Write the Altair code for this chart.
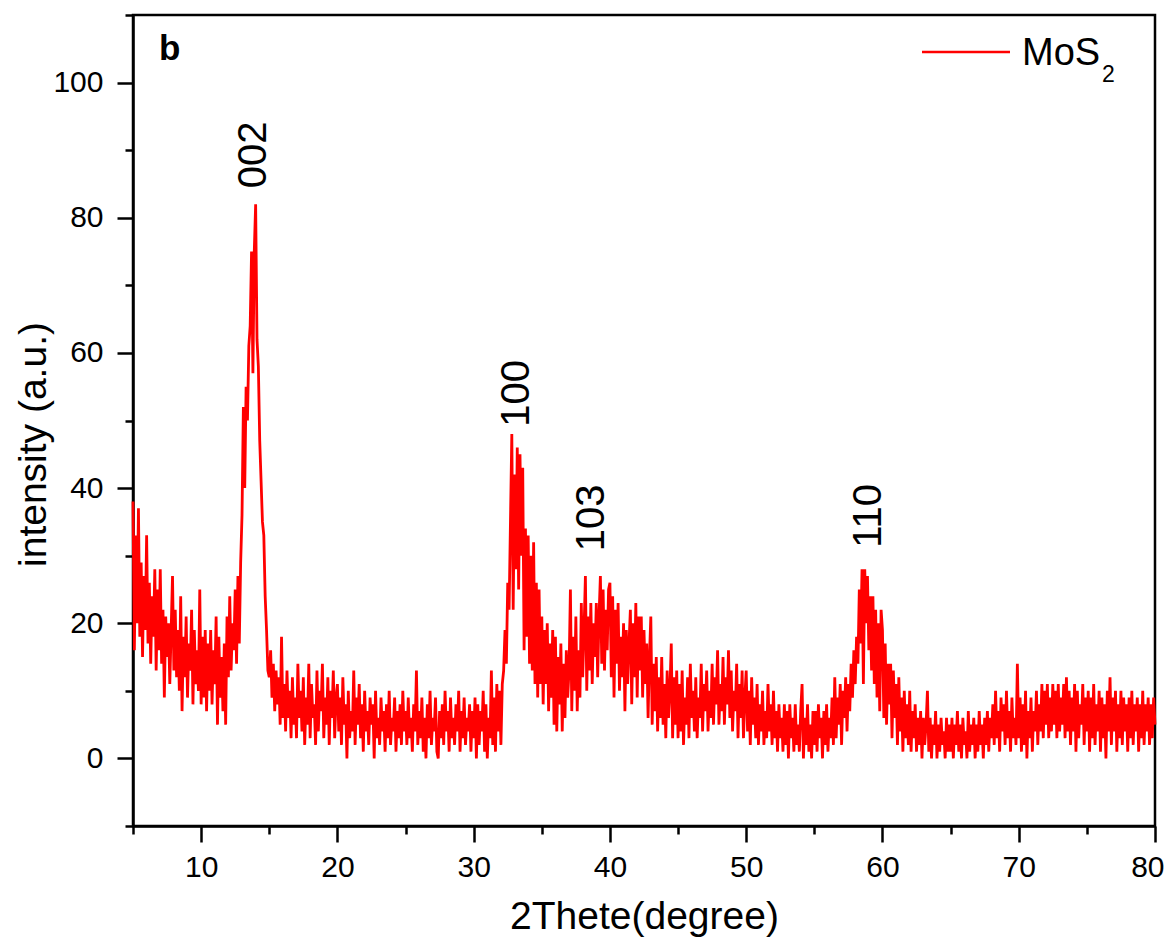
import altair as alt
import pandas as pd

FONT = "Liberation Sans"
RED = "#ff0000"

# 2-theta scan grid (degrees)
two_theta_start = 5.0
two_theta_step = 0.1

# intensity, one list per 5-degree span
i_05 = [38, 16, 33, 20, 37, 18, 29, 15, 27, 19, 33, 17, 26, 14, 24, 18, 28, 13, 25, 16,
        28, 14, 22, 9, 21, 15, 20, 11, 19, 27, 13, 22, 12, 19, 10, 24, 7, 18, 12, 21,
        9, 17, 13, 22, 8, 19, 11, 16, 10, 25]
i_10 = [8, 18, 9, 19, 7, 17, 10, 19, 8, 16, 11, 21, 5, 18, 9, 15, 7, 17, 5, 21,
        12, 24, 13, 20, 16, 25, 14, 27, 17, 29, 36, 52, 40, 55, 50, 61, 64, 75, 57, 75,
        82, 62, 58, 47, 41, 35, 33, 24, 19, 13]
i_15 = [12, 16, 9, 14, 7, 13, 8, 12, 5, 18, 6, 11, 4, 13, 6, 10, 3, 12, 5, 9,
        3, 14, 6, 10, 4, 12, 2, 9, 5, 14, 3, 11, 6, 8, 2, 13, 4, 10, 7, 14,
        3, 9, 5, 12, 2, 10, 6, 13, 3, 9]
i_20 = [11, 4, 9, 2, 12, 5, 8, 0, 10, 3, 7, 4, 13, 2, 9, 5, 11, 3, 8, 1,
        10, 4, 7, 2, 9, 5, 8, 0, 10, 3, 6, 2, 9, 4, 7, 1, 8, 3, 10, 2,
        6, 4, 9, 1, 7, 3, 8, 2, 10, 4]
i_25 = [7, 2, 9, 3, 6, 1, 8, 4, 13, 2, 7, 3, 9, 1, 6, 0, 8, 3, 10, 2,
        6, 4, 9, 1, 0, 7, 3, 8, 2, 10, 4, 7, 1, 9, 3, 6, 2, 8, 4, 10,
        1, 7, 3, 9, 2, 6, 4, 8, 1, 7]
i_30 = [3, 9, 0, 8, 2, 7, 4, 10, 1, 8, 0, 6, 3, 13, 2, 9, 1, 11, 4, 10,
        2, 11, 13, 19, 14, 26, 22, 35, 48, 22, 42, 28, 46, 25, 45, 30, 43, 16, 34, 18,
        33, 14, 30, 13, 32, 11, 26, 9, 25, 11]
i_35 = [21, 8, 19, 11, 20, 7, 17, 9, 19, 5, 18, 4, 15, 8, 17, 4, 14, 6, 16, 9,
        13, 25, 7, 18, 10, 21, 7, 16, 9, 23, 12, 19, 27, 10, 21, 13, 23, 11, 20, 15,
        23, 12, 21, 27, 14, 25, 13, 22, 16, 25]
i_40 = [26, 12, 24, 9, 22, 14, 23, 10, 18, 12, 20, 7, 19, 11, 17, 22, 8, 20, 12, 23,
        9, 21, 13, 21, 9, 19, 11, 17, 6, 15, 21, 5, 14, 7, 15, 4, 12, 6, 15, 5,
        11, 3, 13, 6, 10, 17, 3, 12, 5, 13]
i_45 = [3, 11, 4, 13, 2, 9, 5, 12, 3, 14, 6, 10, 4, 12, 3, 9, 6, 14, 4, 11,
        7, 13, 4, 10, 6, 14, 5, 12, 8, 16, 5, 11, 7, 15, 5, 12, 8, 16, 6, 13,
        4, 10, 7, 14, 3, 11, 6, 13, 3, 9]
i_50 = [13, 4, 10, 2, 12, 5, 9, 3, 11, 2, 8, 4, 10, 2, 7, 3, 11, 4, 8, 2,
        10, 3, 7, 1, 8, 3, 6, 1, 8, 2, 7, 0, 8, 3, 6, 1, 8, 2, 5, 1,
        7, 11, 0, 6, 2, 8, 1, 5, 0, 7]
i_55 = [2, 7, 1, 8, 3, 6, 0, 7, 2, 8, 1, 6, 3, 9, 2, 12, 3, 9, 5, 11,
        2, 10, 6, 12, 4, 11, 7, 14, 9, 16, 11, 18, 14, 25, 17, 28, 11, 28, 20, 27,
        16, 24, 13, 24, 11, 22, 9, 20, 7, 22]
i_60 = [19, 6, 17, 5, 14, 8, 14, 3, 13, 6, 11, 2, 12, 4, 9, 1, 10, 3, 8, 2,
        10, 1, 7, 3, 8, 1, 6, 2, 7, 0, 6, 2, 5, 10, 1, 6, 0, 5, 2, 7,
        0, 5, 1, 6, 2, 4, 0, 6, 1, 5]
i_65 = [1, 6, 0, 5, 2, 7, 1, 5, 0, 6, 2, 4, 0, 7, 1, 5, 2, 6, 0, 5,
        1, 7, 2, 5, 0, 6, 2, 7, 1, 6, 3, 8, 2, 10, 3, 7, 1, 9, 4, 8,
        2, 10, 3, 7, 1, 9, 3, 6, 2, 14]
i_70 = [3, 9, 1, 8, 2, 10, 0, 7, 3, 9, 1, 7, 4, 10, 2, 8, 4, 11, 3, 10,
        5, 11, 3, 9, 4, 11, 5, 10, 3, 11, 4, 9, 5, 11, 3, 12, 4, 10, 2, 9,
        4, 11, 1, 10, 3, 8, 5, 11, 2, 9]
i_75 = [4, 10, 1, 9, 3, 11, 2, 8, 4, 10, 1, 9, 3, 8, 0, 10, 4, 12, 2, 9,
        4, 10, 1, 8, 3, 10, 2, 9, 4, 8, 1, 9, 3, 10, 2, 8, 4, 9, 1, 8,
        3, 10, 2, 8, 4, 9, 2, 8, 3, 9, 5]

segments = [i_05, i_10, i_15, i_20, i_25, i_30, i_35, i_40, i_45, i_50,
            i_55, i_60, i_65, i_70, i_75]
intensity = []
for seg in segments:
    intensity.extend(seg)
two_theta = [round(two_theta_start + two_theta_step * k, 1) for k in range(len(intensity))]

# axis ticks
x_major = [10, 20, 30, 40, 50, 60, 70, 80]
x_minor = [5, 15, 25, 35, 45, 55, 65, 75]
y_major = [0, 20, 40, 60, 80, 100]
y_minor = [-10, 10, 30, 50, 70, 90, 110]

# peak annotations
peak_labels = ["002", "100", "103", "110"]
peak_x = [13.9, 33.2, 38.7, 59.0]
peak_y = [89.3, 54.0, 35.6, 35.9]

legend_label = "MoS"
legend_sub = "2"
panel_label = "b"

df = pd.DataFrame({"two_theta": two_theta, "intensity": intensity})
peaks = pd.DataFrame({"two_theta": peak_x, "intensity": peak_y, "label": peak_labels})
one = pd.DataFrame({"two_theta": [5.0], "intensity": [0.0]})

xscale = alt.Scale(domain=[5, 80], nice=False, zero=False)
yscale = alt.Scale(domain=[-10, 110], nice=False, zero=False)

AX = dict(domainColor="black", domainWidth=2.5, tickColor="black", tickWidth=2.5,
          grid=False, labelColor="black", labelFont=FONT, titleFont=FONT,
          titleColor="black", titleFontWeight="normal", labelOverlap=False)

line = alt.Chart(df).mark_line(color=RED, strokeWidth=2.8).encode(
    x=alt.X("two_theta:Q", scale=xscale,
            axis=alt.Axis(orient="bottom", values=x_major, tickSize=16,
                          labelFontSize=30, labelPadding=10,
                          labelFlush=True, labelFlushOffset=9,
                          title="2Thete(degree)", titleFontSize=39,
                          titleY=102, titleBaseline="alphabetic", **AX)),
    y=alt.Y("intensity:Q", scale=yscale,
            axis=alt.Axis(orient="left", values=y_major, tickSize=16,
                          labelFontSize=30, labelPadding=14, labelFlush=False,
                          title="intensity (a.u.)", titleFontSize=39,
                          titleAngle=270, titleX=-100, titleY=429,
                          titleBaseline="middle", **AX)),
)

minor = alt.Chart(one).mark_point(opacity=0).encode(
    x=alt.X("two_theta:Q", scale=xscale,
            axis=alt.Axis(orient="bottom", values=x_minor, tickSize=8,
                          labels=False, domain=False, title="", **AX)),
    y=alt.Y("intensity:Q", scale=yscale,
            axis=alt.Axis(orient="left", values=y_minor, tickSize=8,
                          labels=False, domain=False, title="", **AX)),
)

peak_text = alt.Chart(peaks).mark_text(
    angle=270, fontSize=40, font=FONT, color="black", align="center",
    baseline="middle").encode(
    x=alt.X("two_theta:Q", scale=xscale, axis=None),
    y=alt.Y("intensity:Q", scale=yscale, axis=None),
    text="label:N",
)

lab = pd.DataFrame({"label": [legend_label]})
leg_rule = alt.Chart(lab).mark_rule(color=RED, strokeWidth=2.5).encode(
    x=alt.value(789), x2=alt.value(877), y=alt.value(37))
leg_text = alt.Chart(lab).mark_text(
    text=legend_label, fontSize=38, font=FONT, color="black", align="left",
    baseline="alphabetic").encode(x=alt.value(889), y=alt.value(50))
leg_sub = alt.Chart(lab).mark_text(
    text=legend_sub, fontSize=23, font=FONT, color="black", align="left",
    baseline="alphabetic").encode(x=alt.value(969), y=alt.value(67))
b_text = alt.Chart(lab).mark_text(
    text=panel_label, fontSize=35, font=FONT, fontWeight="bold", color="black",
    align="left", baseline="alphabetic").encode(x=alt.value(26), y=alt.value(45))

chart = alt.layer(line, minor, peak_text, leg_rule, leg_text, leg_sub, b_text).resolve_axis(
    x="independent", y="independent"
).properties(
    width=1022, height=811,
    padding={"left": 125, "top": 7, "right": 10, "bottom": 113},
    autosize=alt.AutoSizeParams(type="none"),
    background="white",
).configure_view(stroke="black", strokeWidth=2.5)

chart.save("out.html", embed_options={"renderer": "svg", "actions": False})
